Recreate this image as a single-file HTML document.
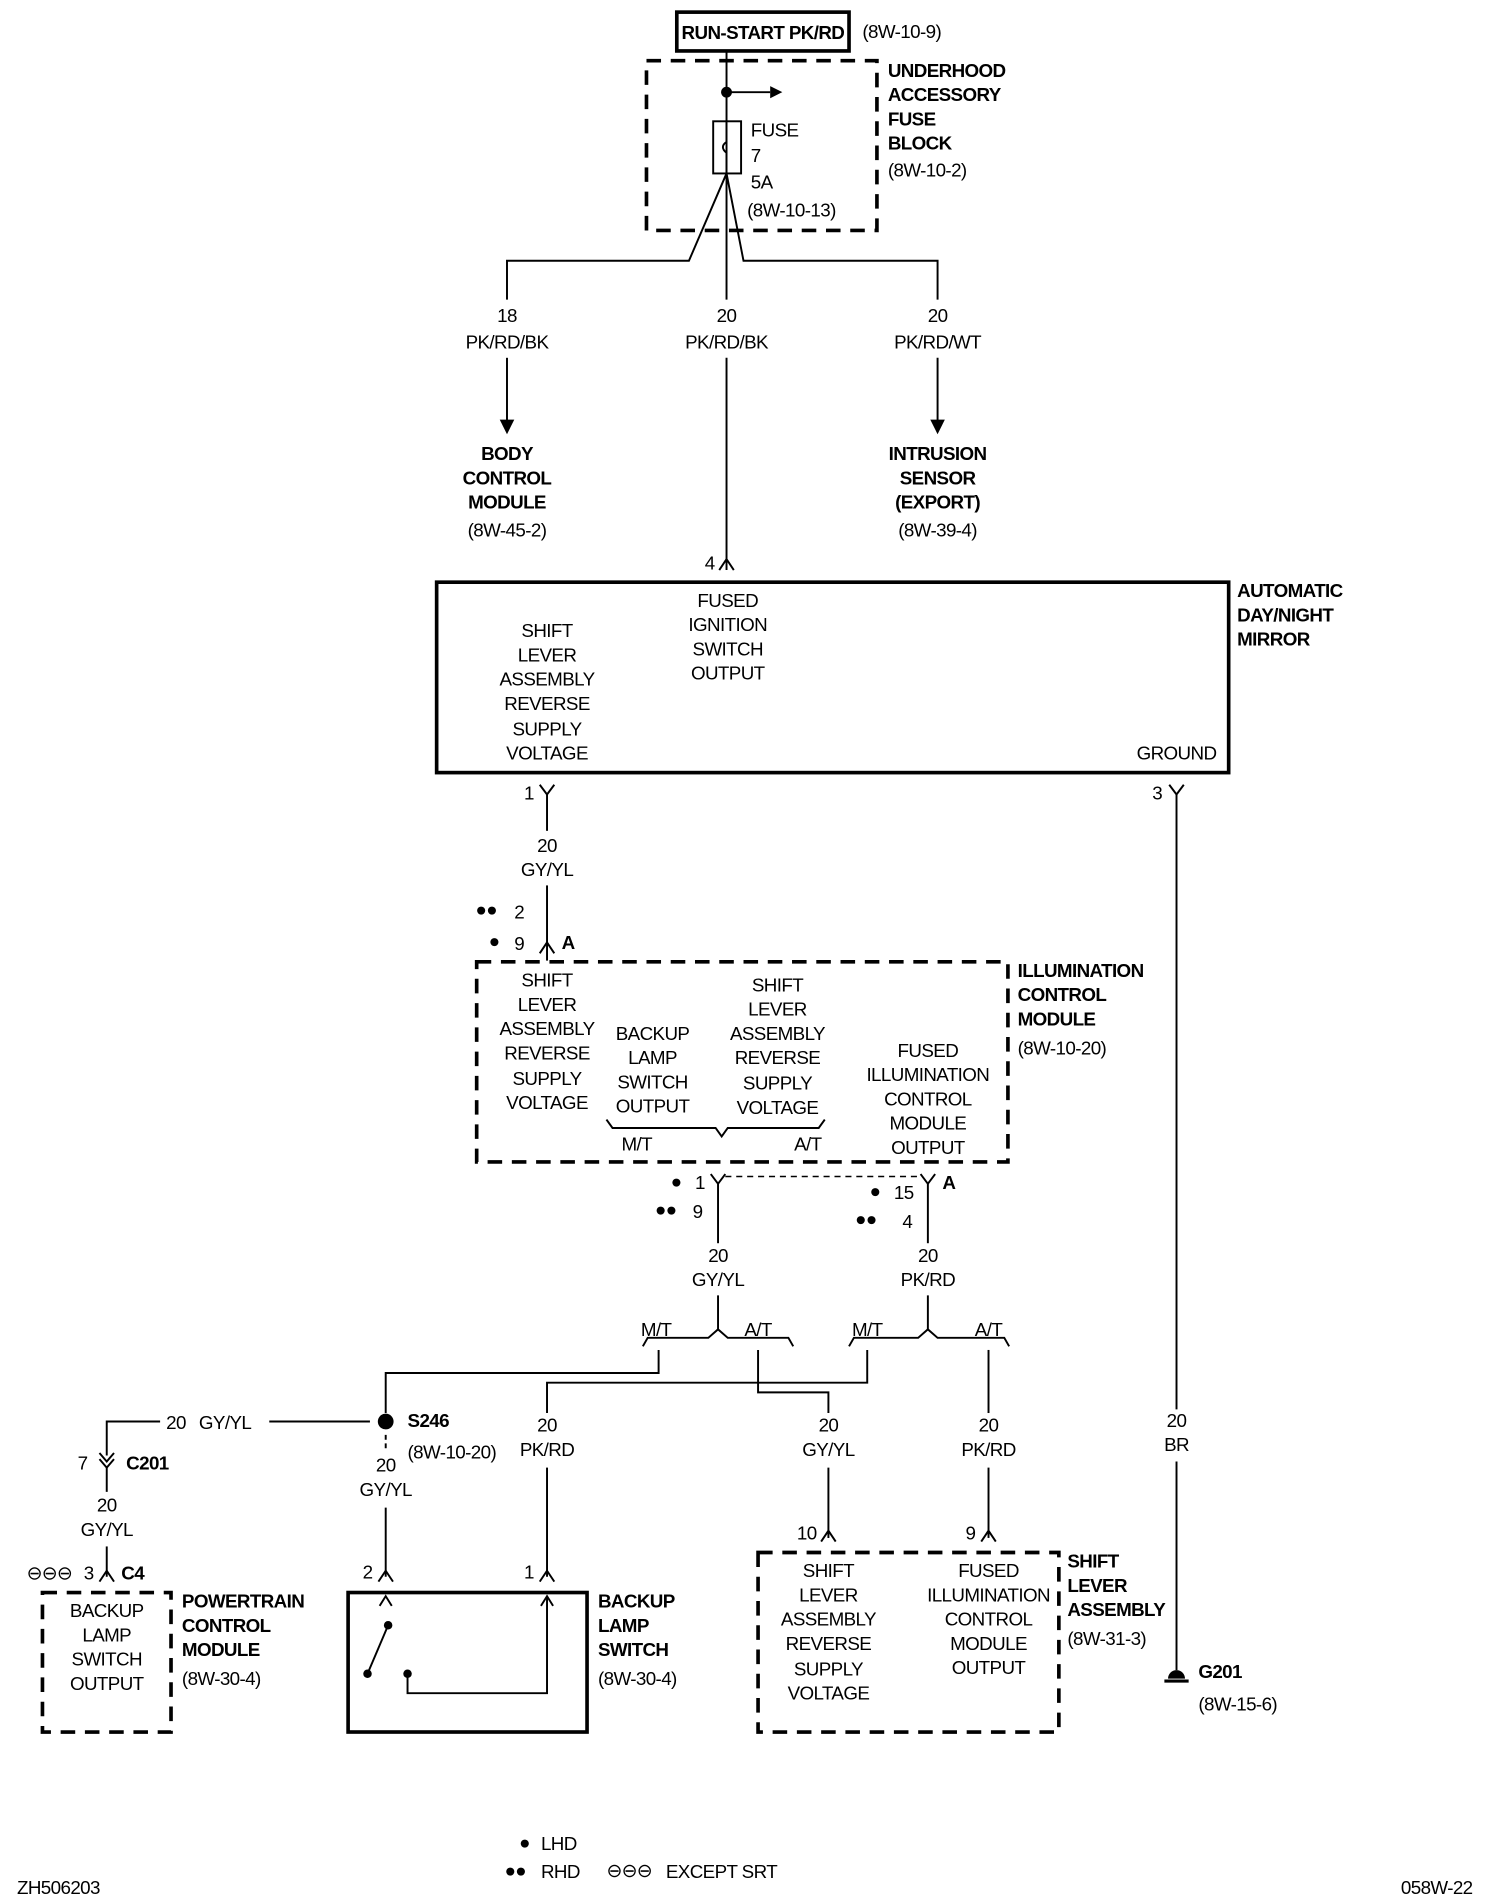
<!DOCTYPE html>
<html><head><meta charset="utf-8"><style>
html,body{margin:0;padding:0;background:#fff}
svg{display:block}
text{font-family:"Liberation Sans",Arial,sans-serif;font-size:15.5px;fill:#000;dominant-baseline:central;letter-spacing:-0.5px}
.b{font-weight:bold}
.m{text-anchor:middle}
</style></head><body>
<svg width="1504" height="1900" viewBox="0 0 1240 1566.5" xmlns="http://www.w3.org/2000/svg">
<g fill="none" stroke="#000" stroke-width="1.6">
<rect x="558" y="10" width="142" height="32" stroke-width="3"/>
<rect x="533" y="50" width="190" height="140" stroke-width="3" stroke-dasharray="12 8"/>
<line x1="599" y1="42" x2="599" y2="247"/>
<line x1="599" y1="76" x2="635" y2="76"/>
<rect x="588" y="100" width="23" height="43"/>
<path d="M599 100 V117 Q593 121 599 126 V143"/>
<path d="M599 143 L568 215 H418 V247"/>
<path d="M599 143 L613 215 H773 V247"/>
<line x1="418" y1="295" x2="418" y2="348"/>
<line x1="773" y1="295" x2="773" y2="348"/>
<line x1="599" y1="295" x2="599" y2="470"/>
<path d="M593 470 L599 461 L605 470"/>
<rect x="360" y="480" width="653" height="157" stroke-width="3"/>
<path d="M445 647 L451 655 L457 647"/>
<line x1="451" y1="655" x2="451" y2="685"/>
<line x1="451" y1="730" x2="451" y2="792"/>
<path d="M445 786 L451 777 L457 786"/>
<path d="M964 647 L970 655 L976 647"/>
<line x1="970" y1="655" x2="970" y2="1162"/>
<line x1="970" y1="1205" x2="970" y2="1377"/>
<line x1="960" y1="1386" x2="980" y2="1386" stroke-width="2.5"/>
<rect x="393" y="793" width="438" height="165" stroke-width="3" stroke-dasharray="12 8"/>
<path d="M500 923 L505 930 H590 L595 937 L600 930 H675 L680 923"/>
<path d="M586 968 L592 976 L598 968"/>
<line x1="598" y1="970" x2="759" y2="970" stroke-dasharray="5 4" stroke-width="1.2"/>
<path d="M759 968 L765 976 L771 968"/>
<line x1="592" y1="976" x2="592" y2="1025"/>
<line x1="765" y1="976" x2="765" y2="1025"/>
<line x1="592" y1="1068" x2="592" y2="1096"/>
<line x1="765" y1="1068" x2="765" y2="1096"/>
<path d="M530 1110 L534 1103 H584 L592 1096 L600 1103 H650 L654 1110"/>
<path d="M700 1110 L704 1103 H757 L765 1096 L773 1103 H828 L832 1110"/>
<path d="M543 1113 V1132 H318 V1165"/>
<path d="M625 1113 V1148 H683 V1165"/>
<path d="M715 1113 V1140 H451 V1165"/>
<path d="M815 1113 V1165"/>
<line x1="683" y1="1210" x2="683" y2="1268"/>
<line x1="815" y1="1210" x2="815" y2="1268"/>
<path d="M677 1271 L683 1262 L689 1271"/>
<path d="M809 1271 L815 1262 L821 1271"/>
<line x1="451" y1="1210" x2="451" y2="1300"/>
<path d="M445 1304 L451 1295 L457 1304"/>
<line x1="305" y1="1172" x2="222" y2="1172"/>
<path d="M132 1172 H88 V1200"/>
<path d="M82 1198 L88 1205 L94 1198 M82 1203 L88 1210 L94 1203"/>
<line x1="88" y1="1210" x2="88" y2="1230"/>
<line x1="88" y1="1275" x2="88" y2="1300"/>
<path d="M82 1304 L88 1295 L94 1304"/>
<line x1="318" y1="1183" x2="318" y2="1197" stroke-dasharray="4 3"/>
<line x1="318" y1="1243" x2="318" y2="1300"/>
<path d="M312 1304 L318 1295 L324 1304"/>
<rect x="35" y="1313" width="106" height="115" stroke-width="3" stroke-dasharray="12 8"/>
<rect x="287" y="1313" width="197" height="115" stroke-width="3"/>
<path d="M313 1324 L318 1316 L323 1324"/>
<path d="M446 1324 L451 1316 L456 1324"/>
<line x1="320" y1="1340" x2="303" y2="1380"/>
<path d="M336 1380 V1396 H451 V1317"/>
<rect x="625" y="1280" width="248" height="148" stroke-width="3" stroke-dasharray="12 8"/>
</g>
<g fill="#000">
<circle cx="599" cy="76" r="4.5"/>
<path d="M635 71 L645 76 L635 81Z"/>
<path d="M412 346 L418 358 L424 346Z"/>
<path d="M767 346 L773 358 L779 346Z"/>
<circle cx="318" cy="1172" r="6.5"/>
<circle cx="320" cy="1340" r="3.5"/>
<circle cx="303" cy="1380" r="3.5"/>
<circle cx="336" cy="1380" r="3.5"/>
<path d="M963 1384 A7 7 0 0 1 977 1384Z"/>
</g>
<g>
<text class="b m" x="629" y="27">RUN-START PK/RD</text>
<text x="711" y="26">(8W-10-9)</text>
<text x="619" y="107">FUSE</text><text x="619" y="128">7</text><text x="619" y="150">5A</text><text x="616" y="173">(8W-10-13)</text>
<text class="b" x="732" y="58">UNDERHOOD</text><text class="b" x="732" y="78">ACCESSORY</text><text class="b" x="732" y="98">FUSE</text><text class="b" x="732" y="118">BLOCK</text><text x="732" y="140">(8W-10-2)</text>
<text class="m" x="418" y="260">18</text><text class="m" x="418" y="282">PK/RD/BK</text>
<text class="m" x="599" y="260">20</text><text class="m" x="599" y="282">PK/RD/BK</text>
<text class="m" x="773" y="260">20</text><text class="m" x="773" y="282">PK/RD/WT</text>
<text class="b m" x="418" y="374">BODY</text><text class="b m" x="418" y="394">CONTROL</text><text class="b m" x="418" y="414">MODULE</text><text class="m" x="418" y="437">(8W-45-2)</text>
<text class="b m" x="773" y="374">INTRUSION</text><text class="b m" x="773" y="394">SENSOR</text><text class="b m" x="773" y="414">(EXPORT)</text><text class="m" x="773" y="437">(8W-39-4)</text>
<text x="581" y="464">4</text>
<text class="m" x="600" y="495">FUSED</text><text class="m" x="600" y="515">IGNITION</text><text class="m" x="600" y="535">SWITCH</text><text class="m" x="600" y="555">OUTPUT</text>
<text class="m" x="451" y="520">SHIFT</text><text class="m" x="451" y="540">LEVER</text><text class="m" x="451" y="560">ASSEMBLY</text><text class="m" x="451" y="580">REVERSE</text><text class="m" x="451" y="601">SUPPLY</text><text class="m" x="451" y="621">VOLTAGE</text>
<text class="m" x="970" y="621">GROUND</text>
<text class="b" x="1020" y="487">AUTOMATIC</text><text class="b" x="1020" y="507">DAY/NIGHT</text><text class="b" x="1020" y="527">MIRROR</text>
<text x="432" y="654">1</text><text x="950" y="654">3</text>
<text class="m" x="451" y="697">20</text><text class="m" x="451" y="717">GY/YL</text>
<text x="392" y="750">●●</text><text x="424" y="752">2</text>
<text x="403" y="776">●</text><text x="424" y="778">9</text><text class="b" x="463" y="777">A</text>
<text class="m" x="451" y="808">SHIFT</text><text class="m" x="451" y="828">LEVER</text><text class="m" x="451" y="848">ASSEMBLY</text><text class="m" x="451" y="868">REVERSE</text><text class="m" x="451" y="889">SUPPLY</text><text class="m" x="451" y="909">VOLTAGE</text>
<text class="m" x="538" y="852">BACKUP</text><text class="m" x="538" y="872">LAMP</text><text class="m" x="538" y="892">SWITCH</text><text class="m" x="538" y="912">OUTPUT</text>
<text class="m" x="641" y="812">SHIFT</text><text class="m" x="641" y="832">LEVER</text><text class="m" x="641" y="852">ASSEMBLY</text><text class="m" x="641" y="872">REVERSE</text><text class="m" x="641" y="893">SUPPLY</text><text class="m" x="641" y="913">VOLTAGE</text>
<text class="m" x="765" y="866">FUSED</text><text class="m" x="765" y="886">ILLUMINATION</text><text class="m" x="765" y="906">CONTROL</text><text class="m" x="765" y="926">MODULE</text><text class="m" x="765" y="946">OUTPUT</text>
<text class="m" x="525" y="943">M/T</text><text class="m" x="666" y="943">A/T</text>
<text class="b" x="839" y="800">ILLUMINATION</text><text class="b" x="839" y="820">CONTROL</text><text class="b" x="839" y="840">MODULE</text><text x="839" y="864">(8W-10-20)</text>
<text x="553" y="974">●</text><text x="573" y="975">1</text>
<text x="540" y="997">●●</text><text x="571" y="999">9</text>
<text class="b" x="777" y="975">A</text>
<text x="717" y="982">●</text><text x="737" y="983">15</text>
<text x="705" y="1005">●●</text><text x="744" y="1007">4</text>
<text class="m" x="592" y="1035">20</text><text class="m" x="592" y="1055">GY/YL</text>
<text class="m" x="765" y="1035">20</text><text class="m" x="765" y="1055">PK/RD</text>
<text class="m" x="541" y="1096">M/T</text><text class="m" x="625" y="1096">A/T</text>
<text class="m" x="715" y="1096">M/T</text><text class="m" x="815" y="1096">A/T</text>
<text x="137" y="1173">20</text><text x="164" y="1173">GY/YL</text>
<text class="b" x="336" y="1171">S246</text><text x="336" y="1197">(8W-10-20)</text>
<text class="m" x="318" y="1208">20</text><text class="m" x="318" y="1228">GY/YL</text>
<text class="m" x="451" y="1175">20</text><text class="m" x="451" y="1195">PK/RD</text>
<text class="m" x="683" y="1175">20</text><text class="m" x="683" y="1195">GY/YL</text>
<text class="m" x="815" y="1175">20</text><text class="m" x="815" y="1195">PK/RD</text>
<text class="m" x="970" y="1171">20</text><text class="m" x="970" y="1191">BR</text>
<text x="64" y="1206">7</text><text class="b" x="104" y="1206">C201</text>
<text class="m" x="88" y="1241">20</text><text class="m" x="88" y="1261">GY/YL</text>
<text x="22" y="1297">⊖⊖⊖</text><text x="69" y="1297">3</text><text class="b" x="100" y="1297">C4</text>
<text x="299" y="1296">2</text><text x="432" y="1296">1</text>
<text x="657" y="1264">10</text><text x="796" y="1264">9</text>
<text class="m" x="88" y="1328">BACKUP</text><text class="m" x="88" y="1348">LAMP</text><text class="m" x="88" y="1368">SWITCH</text><text class="m" x="88" y="1388">OUTPUT</text>
<text class="b" x="150" y="1320">POWERTRAIN</text><text class="b" x="150" y="1340">CONTROL</text><text class="b" x="150" y="1360">MODULE</text><text x="150" y="1384">(8W-30-4)</text>
<text class="b" x="493" y="1320">BACKUP</text><text class="b" x="493" y="1340">LAMP</text><text class="b" x="493" y="1360">SWITCH</text><text x="493" y="1384">(8W-30-4)</text>
<text class="m" x="683" y="1295">SHIFT</text><text class="m" x="683" y="1315">LEVER</text><text class="m" x="683" y="1335">ASSEMBLY</text><text class="m" x="683" y="1355">REVERSE</text><text class="m" x="683" y="1376">SUPPLY</text><text class="m" x="683" y="1396">VOLTAGE</text>
<text class="m" x="815" y="1295">FUSED</text><text class="m" x="815" y="1315">ILLUMINATION</text><text class="m" x="815" y="1335">CONTROL</text><text class="m" x="815" y="1355">MODULE</text><text class="m" x="815" y="1375">OUTPUT</text>
<text class="b" x="880" y="1287">SHIFT</text><text class="b" x="880" y="1307">LEVER</text><text class="b" x="880" y="1327">ASSEMBLY</text><text x="880" y="1351">(8W-31-3)</text>
<text class="b" x="988" y="1378">G201</text><text x="988" y="1405">(8W-15-6)</text>
<text x="428" y="1519">●</text><text x="446" y="1520">LHD</text>
<text x="416" y="1542">●●</text><text x="446" y="1543">RHD</text>
<text x="500" y="1542">⊖⊖⊖</text><text x="549" y="1543">EXCEPT SRT</text>
<text x="14" y="1556">ZH506203</text><text x="1155" y="1556">058W-22</text>
</g>
</svg>
</body></html>
